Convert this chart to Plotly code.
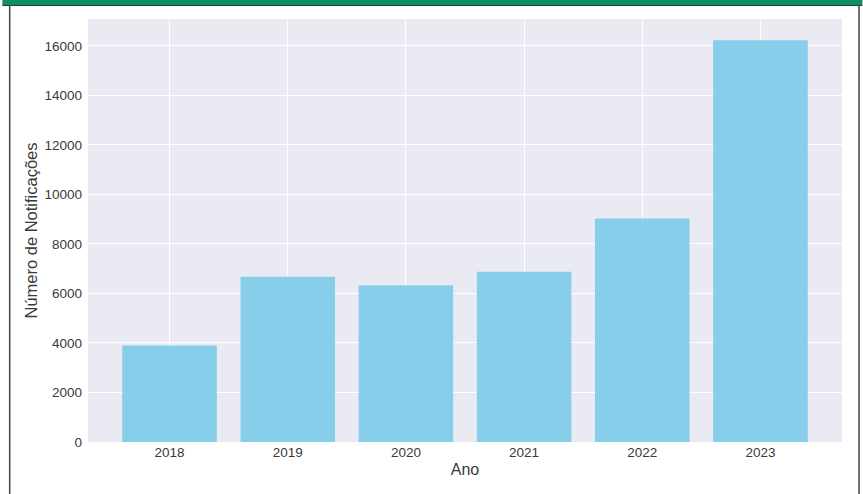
import plotly.graph_objects as go

anos = ["2018", "2019", "2020", "2021", "2022", "2023"]
notificacoes = [3900, 6680, 6330, 6880, 9030, 16230]
y_ticks = [0, 2000, 4000, 6000, 8000, 10000, 12000, 14000, 16000]

fig = go.Figure()
fig.add_trace(go.Bar(
    x=anos, y=notificacoes, width=0.8,
    marker=dict(color="#87CEEB", line=dict(width=0)),
))

W, H = 863, 494
fig.update_layout(
    width=W, height=H,
    margin=dict(l=88, r=21, t=19, b=52),
    paper_bgcolor="white",
    plot_bgcolor="#EAEAF2",
    font=dict(family="Liberation Sans, Arial, sans-serif", size=13.5, color="#3a3a3a"),
    showlegend=False,
    bargap=0.2,
)
fig.update_xaxes(
    type="category", range=[-0.69, 5.69],
    showgrid=True, gridcolor="white", gridwidth=1,
    ticks="", ticklabelstandoff=0,
    title=dict(text="Ano", font=dict(size=16, color="#3a3a3a"), standoff=5),
    zeroline=False, showline=False,
)
fig.update_yaxes(
    range=[0, 17090], tickvals=y_ticks, ticktext=[str(v) for v in y_ticks],
    showgrid=True, gridcolor="white", gridwidth=1,
    ticks="", ticklabelstandoff=5,
    title=dict(text="Número de Notificações", font=dict(size=16.5, color="#3a3a3a"), standoff=2),
    zeroline=False, showline=False,
)

# Screenshot frame: green top bar and dark side borders
fig.add_shape(type="rect", xref="paper", yref="paper",
              x0=-88/775, x1=1+21/775, y0=1+(19-5)/423, y1=1+19/423,
              fillcolor="#0E8F65", line=dict(width=0), layer="above")
fig.add_shape(type="line", xref="paper", yref="paper",
              x0=-88/775, x1=1+21/775, y0=1+(19-5.5)/423, y1=1+(19-5.5)/423,
              line=dict(color="#1f3d33", width=1.2), layer="above")
fig.add_shape(type="line", xref="paper", yref="paper",
              x0=-(88-7.5)/775, x1=-(88-7.5)/775, y0=-52/423, y1=1+(19-5)/423,
              line=dict(color="#444444", width=1.5), layer="above")
fig.add_shape(type="line", xref="paper", yref="paper",
              x0=1+(859.5-863+21)/775, x1=1+(859.5-863+21)/775, y0=-52/423, y1=1+(19-5)/423,
              line=dict(color="#444444", width=1.5), layer="above")

fig.write_html("out.html", config={"displayModeBar": False},
               post_script="document.body.style.margin='0';document.body.style.overflow='hidden';")
